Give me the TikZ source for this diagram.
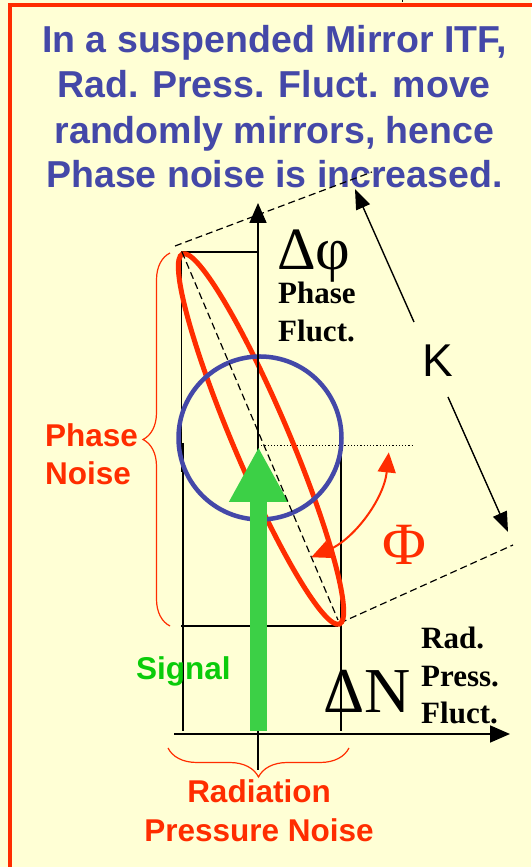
\documentclass[tikz,border=0pt]{standalone}
\usepackage{fontspec}
\setmainfont{Liberation Serif}
\newfontfamily\arialf{Liberation Sans}
\usetikzlibrary{arrows.meta,decorations.pathreplacing,calc}
\definecolor{bgyel}{RGB}{255,255,213}
\definecolor{myred}{RGB}{255,45,0}
\definecolor{myblue}{RGB}{68,72,168}
\definecolor{mygreen}{RGB}{10,204,10}
\definecolor{arrgreen}{RGB}{60,208,70}
\begin{document}
\begin{tikzpicture}[x=1pt,y=1pt,
  titletext/.style={font=\arialf\bfseries\fontsize{37.5}{44}\selectfont, text=myblue, inner sep=0pt},
  redlabel/.style={font=\arialf\bfseries\fontsize{31.5}{38}\selectfont, text=myred, inner sep=0pt},
  boldserif/.style={font=\bfseries\fontsize{31}{37}\selectfont, inner sep=0pt},
  thinline/.style={line width=1.3pt},
  axisline/.style={line width=1.7pt, -{Triangle[length=20pt,width=17pt]}},
  dashln/.style={line width=1.2pt, dash pattern=on 7pt off 4pt},
  dotln/.style={line width=0.9pt, dash pattern=on 1.2pt off 2pt},
  karrow/.style={line width=1.4pt, -{Triangle[length=20pt,width=15pt]}},
  bracestyle/.style={myred, line width=1.2pt, decorate},
]
% background and frame
\fill[bgyel] (0,0) rectangle (531,867);
\useasboundingbox (0,0) rectangle (531,867);
\draw[myred, line width=4.5pt] (10,-5) -- (10,862) -- (536,862);
\draw[line width=1pt] (402,867) -- (402,864.5);

% title
\node[titletext, anchor=base] (t1) at (274.5,814.5) {In a suspended Mirror ITF,};
\node[titletext, anchor=base] (t2) at (274,769) {Rad. Press. Fluct. move};
\node[titletext, anchor=base] (t3) at (274.5,723.5) {randomly mirrors, hence};
\node[titletext, anchor=base] (t4) at (274.5,679) {Phase noise is increased.};

% key coordinates
\coordinate (c) at (261,428);
\coordinate (vbot) at (258,97);
\coordinate (vtop) at (258,664);
\coordinate (hleft) at (174,133);
\coordinate (hright) at (510,133);

% projection lines
\draw[thinline] (181,615) -- (258,615);
\draw[thinline] (181.5,615) -- (181.5,395);
\draw[thinline] (183,424) -- (183,136);
\draw[thinline] (341,424) -- (341,136);
\draw[thinline] (181,241) -- (338,241);
\draw[dotln] (258,422) -- (413,422);

% outer dashed lines
\draw[dashln] (175,621) -- (372,695);
\draw[dashln] (340,244) -- (513,322);

% red ellipse
\draw[myred, line width=5pt, rotate around={113:(c)}] (c) ellipse[x radius=201pt, y radius=28pt];

% blue circle
\draw[myblue, line width=4.5pt] (260,429) circle[radius=81.5pt];

% axes
\draw[axisline] (vbot) -- (vtop);
\draw[axisline] (hleft) -- (hright);

% green signal arrow
\coordinate (gb) at (258.5,136);
\coordinate (gt) at (258.5,420);
\draw[arrgreen, line width=16.5pt, -{Triangle[length=55pt,width=55pt]}] (gb) -- (gt);

% dashed diagonal (on top)
\coordinate (etop) at (182,615);
\coordinate (ebot) at (338,247);
\draw[dashln] (etop) -- (ebot);

% axis labels
\node[font=\fontsize{60}{60}\selectfont, inner sep=0pt, anchor=base west] (dphi) at (277,597) {Δφ};
\node[boldserif, anchor=base west] (pf1) at (278,563) {Phase};
\node[boldserif, anchor=base west] (pf2) at (278,525) {Fluct.};
\node[font=\fontsize{64}{64}\selectfont, inner sep=0pt, anchor=base west] (dN) at (323,154) {ΔN};
\node[boldserif, anchor=base west] (rp1) at (421,218) {Rad.};
\node[boldserif, anchor=base west] (rp2) at (421,180) {Press.};
\node[boldserif, anchor=base west] (rp3) at (421,143) {Fluct.};

% K arrow
\node[font=\arialf\fontsize{46}{46}\selectfont, inner sep=0pt, anchor=base west] (K) at (422,490) {K};
\coordinate (kuptip) at (355,678);
\coordinate (kup) at (414,545);
\coordinate (klo) at (448,470);
\coordinate (klotip) at (508,335);
\draw[karrow] (kup) -- (kuptip);
\draw[karrow] (klo) -- (klotip);

% Phi arc
\draw[myred, line width=2pt, {Triangle[length=20pt,width=18pt]}-{Triangle[length=20pt,width=18pt]}]
  ([shift={(-6:128.5)}]c) arc[start angle=-6, end angle=-67, radius=128.5pt];
\node[font=\fontsize{60}{60}\selectfont, text=myred, inner sep=0pt, anchor=base] (Phi) at (404,302) {Φ};

% braces
\draw[bracestyle, decoration={brace, amplitude=27pt}] (170,241) -- (170,614);
\node[redlabel, anchor=base west] (pn1) at (45,420) {Phase};
\node[redlabel, anchor=base west] (pn2) at (45,382) {Noise};
\draw[bracestyle, decoration={brace, amplitude=29pt}] (349,119) -- (168,119);
\node[redlabel, anchor=base] (rpn1) at (259,64) {Radiation};
\node[redlabel, anchor=base] (rpn2) at (259,25) {Pressure Noise};

% signal label
\node[font=\arialf\bfseries\fontsize{31.5}{38}\selectfont, text=mygreen, inner sep=0pt, anchor=base west] (sig) at (136,187) {Signal};
\end{tikzpicture}
\end{document}
